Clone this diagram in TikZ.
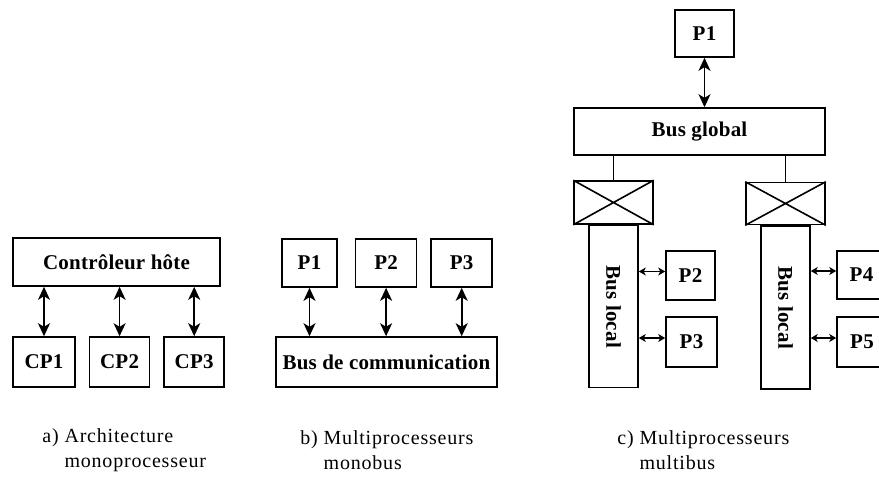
\documentclass[tikz,border=0pt]{standalone}
\usepackage{fontspec}
\setmainfont{Liberation Serif}[LetterSpace=4]
\usepackage{graphicx}
\usepackage{tikz}
\usetikzlibrary{positioning, arrows.meta}

\begin{document}
\begin{tikzpicture}[
    x=0.5pt, y=-0.5pt,
    font=\fontsize{10}{12}\selectfont,
    unit/.style={draw, rectangle, line width=0.8pt, inner sep=0pt,
                 font=\fontsize{10.5}{12}\selectfont\bfseries\addfontfeature{LetterSpace=1}},
    arrow/.style={<->, line width=0.8pt,
                  >={Stealth[length=6.5pt, width=6pt, inset=1.8pt]}},
    link/.style={<->, line width=0.8pt,
                 >={Stealth[length=3.5pt, width=4pt, inset=1pt]}},
    wire/.style={line width=0.8pt},
    caption/.style={align=left, anchor=west, inner sep=0pt},
]
\useasboundingbox (0,0) rectangle (879,479);
\clip (0,0) rectangle (879,479);

% a) monoprocesseur
\node[unit, minimum width=103.5pt, minimum height=24pt] (host) at (116.5,262) {Contrôleur hôte};
\node[unit, minimum width=31pt, minimum height=25pt] (cp1) at (44,362) {CP1};
\node[unit, minimum width=30pt, minimum height=25pt, right=6.5pt of cp1] (cp2) {CP2};
\node[unit, minimum width=30pt, minimum height=25pt, right=6.5pt of cp2] (cp3) {CP3};
\foreach \c in {cp1,cp2,cp3}
    \draw[arrow] (\c.north) -- (\c.north |- host.south);

% b) monobus
\node[unit, minimum width=110.5pt, minimum height=25pt] (bus) at (386.5,362) {Bus de communication};
\node[unit, minimum width=27.5pt, minimum height=24pt] (pb1) at (309.5,263) {P1};
\node[unit, minimum width=30.5pt, minimum height=24pt, right=8.5pt of pb1] (pb2) {P2};
\node[unit, minimum width=30.5pt, minimum height=24pt, right=6.5pt of pb2] (pb3) {P3};
\foreach \p in {pb1,pb2,pb3}
    \draw[arrow] (\p.south) -- (\p.south |- bus.north);

% c) multibus
\node[unit, minimum width=29.5pt, minimum height=23.5pt] (pc1) at (704.5,33.5) {P1};
\node[unit, minimum width=125.5pt, minimum height=23.5pt] (global) at (699.5,131.5) {Bus global};
\draw[arrow] (pc1.south) -- (pc1.south |- global.north);

\node[unit, minimum width=39.5pt, minimum height=21.5pt] (swl) at (613.5,202.5) {};
\node[unit, minimum width=39.5pt, minimum height=21pt] (swr) at (785.5,203.5) {};
\foreach \s in {swl,swr} {
    \draw[wire] (\s.north) -- (\s.north |- global.south);
    \draw[wire] (\s.north west) -- (\s.south east) (\s.south west) -- (\s.north east);
}

\node[unit, minimum width=24.5pt, minimum height=81pt, below=0pt of swl] (locl) {\rotatebox{-90}{Bus local}};
\node[unit, minimum width=24.5pt, minimum height=81.5pt, below=0pt of swr] (locr) {\rotatebox{-90}{Bus local}};

\node[unit, minimum width=24.5pt, minimum height=24.5pt] (pc2) at (690.5,275.5) {P2};
\node[unit, minimum width=25.5pt, minimum height=25pt] (pc3) at (691.5,342) {P3};
\node[unit, minimum width=24.5pt, minimum height=24pt] (pc4) at (861.5,275) {P4};
\node[unit, minimum width=25pt, minimum height=25pt] (pc5) at (862,342) {P5};
\draw[link] ([yshift=2pt]pc2.west -| locl.east) -- ([yshift=2pt]pc2.west);
\draw[link] ([yshift=2pt]pc3.west -| locl.east) -- ([yshift=2pt]pc3.west);
\draw[link] ([yshift=2pt]pc4.west -| locr.east) -- ([yshift=2pt]pc4.west);
\draw[link] ([yshift=2pt]pc5.west -| locr.east) -- ([yshift=2pt]pc5.west);

% legends
\node[caption] (capa) at (42,450) {a) Architecture\\[0.5pt]\hphantom{a) }monoprocesseur};
\node[caption] (capb) at (300,450) {b) Multiprocesseurs\\[0.5pt]\hphantom{b) }monobus};
\node[caption] (capc) at (617,450) {c) Multiprocesseurs\\[0.5pt]\hphantom{c) }multibus};
\end{tikzpicture}
\end{document}
